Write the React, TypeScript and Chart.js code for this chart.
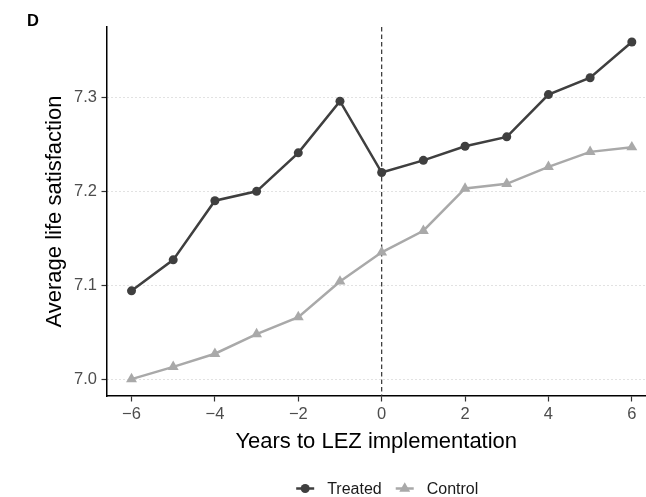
import React, { useEffect, useRef } from "react";
import { Chart, registerables } from "chart.js";

Chart.register(...registerables);

// ---- data ----
const years = [-6, -5, -4, -3, -2, -1, 0, 1, 2, 3, 4, 5, 6];
const treated = [7.094, 7.127, 7.19, 7.2, 7.241, 7.296, 7.22, 7.233, 7.248, 7.258, 7.303, 7.321, 7.359];
const control = [7.0, 7.013, 7.027, 7.048, 7.066, 7.104, 7.135, 7.158, 7.203, 7.208, 7.226, 7.242, 7.247];
const xTicks = [-6, -4, -2, 0, 2, 4, 6];
const yTicks = [7.0, 7.1, 7.2, 7.3];
const seriesNames = ["Treated", "Control"];
const panelLabel = "D";
const xTitle = "Years to LEZ implementation";
const yTitle = "Average life satisfaction";
const eventYear = 0;

// ---- styles ----
const FONT = "'Liberation Sans', Arial, Helvetica, sans-serif";
const DARK = "#3f3f3f";
const LIGHT = "#a9a9a9";
const TICK_TEXT = "#4d4d4d";

const fmtX = (v: number) => (v < 0 ? "\u2212" + Math.abs(v) : String(v));

function drawMarker(ctx: CanvasRenderingContext2D, style: string, x: number, y: number, r: number, color: string) {
  ctx.save();
  ctx.fillStyle = color;
  ctx.beginPath();
  if (style === "triangle") {
    let rad = 0;
    ctx.moveTo(x + Math.sin(rad) * r, y - Math.cos(rad) * r);
    rad += (2 * Math.PI) / 3;
    ctx.lineTo(x + Math.sin(rad) * r, y - Math.cos(rad) * r);
    rad += (2 * Math.PI) / 3;
    ctx.lineTo(x + Math.sin(rad) * r, y - Math.cos(rad) * r);
    ctx.closePath();
  } else {
    ctx.arc(x, y, r, 0, Math.PI * 2);
  }
  ctx.fill();
  ctx.restore();
}

const eventLinePlugin = {
  id: "eventLine",
  beforeDatasetsDraw(chart: any) {
    const { ctx, chartArea, scales } = chart;
    const x = scales.x.getPixelForValue(eventYear);
    ctx.save();
    ctx.strokeStyle = "#333333";
    ctx.lineWidth = 1.2;
    ctx.setLineDash([4.5, 3]);
    ctx.beginPath();
    ctx.moveTo(x, chartArea.top);
    ctx.lineTo(x, chartArea.bottom);
    ctx.stroke();
    ctx.restore();
  },
};

const decorPlugin = {
  id: "decor",
  afterDraw(chart: any) {
    const { ctx, chartArea } = chart;
    ctx.save();
    // panel label
    ctx.font = `bold 16.5px ${FONT}`;
    ctx.fillStyle = "#000";
    ctx.textAlign = "left";
    ctx.textBaseline = "alphabetic";
    ctx.fillText(panelLabel, 27, 25.7);

    // legend
    const items = [
      { label: seriesNames[0], color: DARK, style: "circle", r: 4.5 },
      { label: seriesNames[1], color: LIGHT, style: "triangle", r: 6.3 },
    ];
    ctx.font = `16px ${FONT}`;
    const keyW = 18;
    const gapKeyText = 13;
    const gapItems = 14;
    const widths = items.map((it) => ctx.measureText(it.label).width);
    let total = 0;
    items.forEach((it, i) => {
      total += keyW + gapKeyText + widths[i];
    });
    total += gapItems * (items.length - 1);
    const cx = (chartArea.left + chartArea.right) / 2 + 11;
    let x = cx - total / 2;
    const y = 488.5;
    items.forEach((it, i) => {
      ctx.strokeStyle = it.color;
      ctx.lineWidth = 2.5;
      ctx.setLineDash([]);
      ctx.beginPath();
      ctx.moveTo(x, y);
      ctx.lineTo(x + keyW, y);
      ctx.stroke();
      drawMarker(ctx, it.style, x + keyW / 2, y, it.r, it.color);
      ctx.fillStyle = "#1a1a1a";
      ctx.textBaseline = "middle";
      ctx.textAlign = "left";
      ctx.fillText(it.label, x + keyW + gapKeyText, y + 0.8);
      x += keyW + gapKeyText + widths[i] + gapItems;
    });
    ctx.restore();
  },
};

export default function App() {
  const ref = useRef<HTMLCanvasElement | null>(null);
  useEffect(() => {
    if (!ref.current) return;
    const chart = new Chart(ref.current, {
      type: "line",
      data: {
        datasets: [
          {
            label: seriesNames[0],
            data: years.map((yr, i) => ({ x: yr, y: treated[i] })),
            borderColor: DARK,
            backgroundColor: DARK,
            borderWidth: 2.5,
            pointStyle: "circle",
            pointRadius: 4.5,
            pointBorderWidth: 0,
            pointBackgroundColor: DARK,
            tension: 0,
          },
          {
            label: seriesNames[1],
            data: years.map((yr, i) => ({ x: yr, y: control[i] })),
            borderColor: LIGHT,
            backgroundColor: LIGHT,
            borderWidth: 2.5,
            pointStyle: "triangle",
            pointRadius: 6.3,
            pointBorderWidth: 0,
            pointBackgroundColor: LIGHT,
            tension: 0,
          },
        ],
      },
      options: {
        animation: false,
        responsive: true,
        maintainAspectRatio: false,
        layout: { autoPadding: false, padding: { top: 27, left: 0, right: 0, bottom: 0 } },
        plugins: {
          legend: { display: false },
          tooltip: { enabled: false },
          title: { display: false },
        },
        scales: {
          x: {
            type: "linear",
            min: -6.6,
            max: 6.34,
            afterBuildTicks: (s: any) => {
              s.ticks = xTicks.map((v) => ({ value: v }));
            },
            afterFit: (s: any) => {
              s.height = 101;
              s.paddingLeft = 0;
              s.paddingRight = 0;
            },
            grid: {
              drawOnChartArea: false,
              drawTicks: true,
              tickLength: 5.5,
              tickColor: "#333333",
              tickWidth: 1.2,
              tickBorderDash: [],
            },
            border: { display: true, color: "#000000", width: 1.5 },
            ticks: {
              color: TICK_TEXT,
              font: { family: FONT, size: 16.5 },
              padding: 3.5,
              maxRotation: 0,
              autoSkip: false,
              callback: (v: any) => fmtX(Number(v)),
            },
            title: {
              display: true,
              text: xTitle,
              color: "#000000",
              font: { family: FONT, size: 22 },
              padding: { top: 0, bottom: 42.3 },
            },
          },
          y: {
            type: "linear",
            min: 6.982,
            max: 7.375,
            afterBuildTicks: (s: any) => {
              s.ticks = yTicks.map((v) => ({ value: v }));
            },
            afterFit: (s: any) => {
              s.width = 106.5;
              s.paddingTop = 0;
              s.paddingBottom = 0;
            },
            grid: {
              drawOnChartArea: true,
              color: "#c4c4c4",
              lineWidth: 1,
              drawTicks: true,
              tickLength: 5,
              tickColor: "#333333",
              tickWidth: 1.2,
              tickBorderDash: [],
            },
            border: { display: true, color: "#000000", width: 1.5, dash: [1, 3] },
            ticks: {
              color: TICK_TEXT,
              font: { family: FONT, size: 16.5 },
              padding: 4.5,
              autoSkip: false,
              callback: (v: any) => Number(v).toFixed(1),
            },
            title: {
              display: true,
              text: yTitle,
              color: "#000000",
              font: { family: FONT, size: 22 },
              padding: { top: 41.7, bottom: 0 },
            },
          },
        },
      },
      plugins: [eventLinePlugin, decorPlugin],
    } as any);
    return () => chart.destroy();
  }, []);

  return (
    <div style={{ position: "fixed", left: 0, top: 0, width: 646, height: 497, background: "#fff" }}>
      <canvas ref={ref} />
    </div>
  );
}
